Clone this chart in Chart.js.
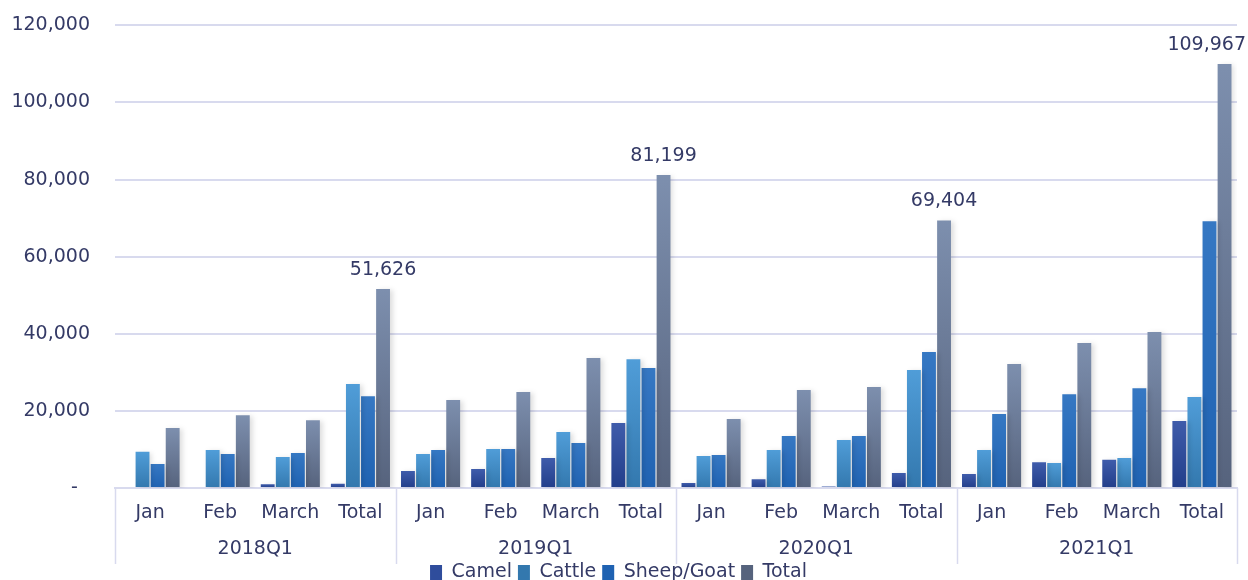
<!DOCTYPE html>
<html>
<head>
    <meta charset="utf-8">
    <title>Livestock by quarter</title>
    <script src="https://cdn.jsdelivr.net/npm/chart.js@4.4.0/dist/chart.umd.min.js"></script>
    <style>
        html, body {
            margin: 0;
            padding: 0;
            background: #ffffff;
            overflow: hidden;
        }
        .chart-container {
            position: relative;
            width: 1248px;
            height: 603px;
            margin-top: -11px;
        }
    </style>
</head>
<body>
    <div class="chart-container">
        <canvas id="chart"></canvas>
    </div>

    <script>
        // Data
        const quarters = ['2018Q1', '2019Q1', '2020Q1', '2021Q1'];
        const months = ['Jan', 'Feb', 'March', 'Total'];
        const labels = quarters.flatMap(q => months);

        const camel  = [0, 0, 1000, 1100,   4400, 4900, 7800, 16850,   1300, 2300, 400, 3900,    3600, 6700, 7300, 17400];
        const cattle = [9400, 9850, 8030, 26950,   8800, 10100, 14500, 33400,   8300, 9850, 12450, 30600,   9850, 6500, 7800, 23600];
        const sheep  = [6200, 8800, 9070, 23800,   9850, 10100, 11650, 31100,   8550, 13480, 13480, 35250,   19200, 24350, 25900, 69200];
        const total  = [15550, 18900, 17600, 51626,   22800, 24900, 33700, 81199,   17900, 25400, 26200, 69404,   32150, 37600, 40450, 109967];

        const yTicks = [0, 20000, 40000, 60000, 80000, 100000, 120000];

        const textColor = '#343a66';
        const gridColor = '#d8daee';
        const fontFamily = '"DejaVu Sans", sans-serif';

        // top / bottom colours for each series gradient
        const palette = {
            camel:  ['#3f5cab', '#223e8a', '#2f4d9c'],
            cattle: ['#509dd8', '#3378ae', '#4590cc'],
            sheep:  ['#3678c3', '#1f62b2', '#2a6dbb'],
            total:  ['#7d8fae', '#56637d', '#6b7a96']
        };

        function barFill(key) {
            return function(context) {
                const c = palette[key];
                if (context.type !== 'data') return c[2];
                const chart = context.chart;
                const y = chart.scales.y;
                if (!y) return c[2];
                const top = y.getPixelForValue(context.raw);
                const bottom = y.getPixelForValue(0);
                if (!isFinite(top) || bottom - top < 1) return c[2];
                const g = chart.ctx.createLinearGradient(0, top, 0, bottom);
                g.addColorStop(0, c[0]);
                g.addColorStop(1, c[1]);
                return g;
            };
        }

        // soft shadow behind bars
        const shadowPlugin = {
            id: 'barShadow',
            beforeDatasetsDraw(chart) {
                const ctx = chart.ctx;
                ctx.save();
                ctx.shadowColor = 'rgba(0, 0, 0, 0.13)';
                ctx.shadowBlur = 5;
                ctx.shadowOffsetX = 3;
                ctx.shadowOffsetY = 1;
            },
            afterDatasetsDraw(chart) {
                chart.ctx.restore();
            }
        };

        // quarter labels, separators and total value labels
        const extrasPlugin = {
            id: 'extras',
            afterDraw(chart) {
                const ctx = chart.ctx;
                const x = chart.scales.x;
                const area = chart.chartArea;
                const step = x.getPixelForValue(1) - x.getPixelForValue(0);
                ctx.save();

                // separators between quarters
                ctx.strokeStyle = gridColor;
                ctx.lineWidth = 1.5;
                for (let q = 0; q <= quarters.length; q++) {
                    const px = Math.round(x.getPixelForValue(q * months.length) - step / 2) + 0.5;
                    ctx.beginPath();
                    ctx.moveTo(px, area.bottom);
                    ctx.lineTo(px, area.bottom + 76);
                    ctx.stroke();
                }

                // quarter labels
                ctx.fillStyle = textColor;
                ctx.font = '19px ' + fontFamily;
                ctx.textAlign = 'center';
                ctx.textBaseline = 'middle';
                quarters.forEach((q, i) => {
                    const first = x.getPixelForValue(i * months.length);
                    const last = x.getPixelForValue(i * months.length + months.length - 1);
                    ctx.fillText(q, (first + last) / 2, area.bottom + 61);
                });

                // value labels on the quarterly total bars
                const meta = chart.getDatasetMeta(3);
                ctx.textBaseline = 'alphabetic';
                labels.forEach((m, i) => {
                    if (m !== 'Total') return;
                    const bar = meta.data[i];
                    const text = total[i].toLocaleString('en-US');
                    const w = ctx.measureText(text).width;
                    let cx = bar.x;
                    if (cx + w / 2 > chart.width - 2) cx = chart.width - 2 - w / 2;
                    ctx.fillText(text, cx, bar.y - 14);
                });
                ctx.restore();
            }
        };

        const ctx = document.getElementById('chart').getContext('2d');
        const chart = new Chart(ctx, {
            type: 'bar',
            data: {
                labels: labels,
                datasets: [
                    { label: 'Camel', data: camel, backgroundColor: barFill('camel') },
                    { label: 'Cattle', data: cattle, backgroundColor: barFill('cattle') },
                    { label: 'Sheep/Goat', data: sheep, backgroundColor: barFill('sheep') },
                    { label: 'Total', data: total, backgroundColor: barFill('total') }
                ]
            },
            options: {
                responsive: true,
                maintainAspectRatio: false,
                animation: false,
                datasets: {
                    bar: {
                        categoryPercentage: 0.86,
                        barPercentage: 0.92
                    }
                },
                layout: {
                    padding: { top: 5, right: 11, left: 0, bottom: 0 }
                },
                scales: {
                    x: {
                        grid: { display: false },
                        border: { color: gridColor, width: 2 },
                        ticks: {
                            color: textColor,
                            font: { family: fontFamily, size: 19 },
                            padding: 6,
                            maxRotation: 0,
                            autoSkip: false
                        },
                        afterFit(scale) { scale.height = 69; }
                    },
                    y: {
                        min: 0,
                        max: 120000,
                        afterBuildTicks(scale) {
                            scale.ticks = yTicks.map(v => ({ value: v }));
                        },
                        afterFit(scale) { scale.width = 115; },
                        grid: { color: gridColor, lineWidth: 2, drawTicks: false },
                        border: { display: false },
                        ticks: {
                            color: textColor,
                            font: { family: fontFamily, size: 19 },
                            padding: 25,
                            callback: v => v === 0 ? '-  ' : v.toLocaleString('en-US')
                        }
                    }
                },
                plugins: {
                    legend: {
                        position: 'bottom',
                        labels: {
                            color: textColor,
                            font: { family: fontFamily, size: 19 },
                            boxWidth: 12,
                            boxHeight: 15,
                            padding: 6
                        }
                    },
                    tooltip: { enabled: false }
                }
            },
            plugins: [shadowPlugin, extrasPlugin]
        });
    </script>
</body>
</html>
